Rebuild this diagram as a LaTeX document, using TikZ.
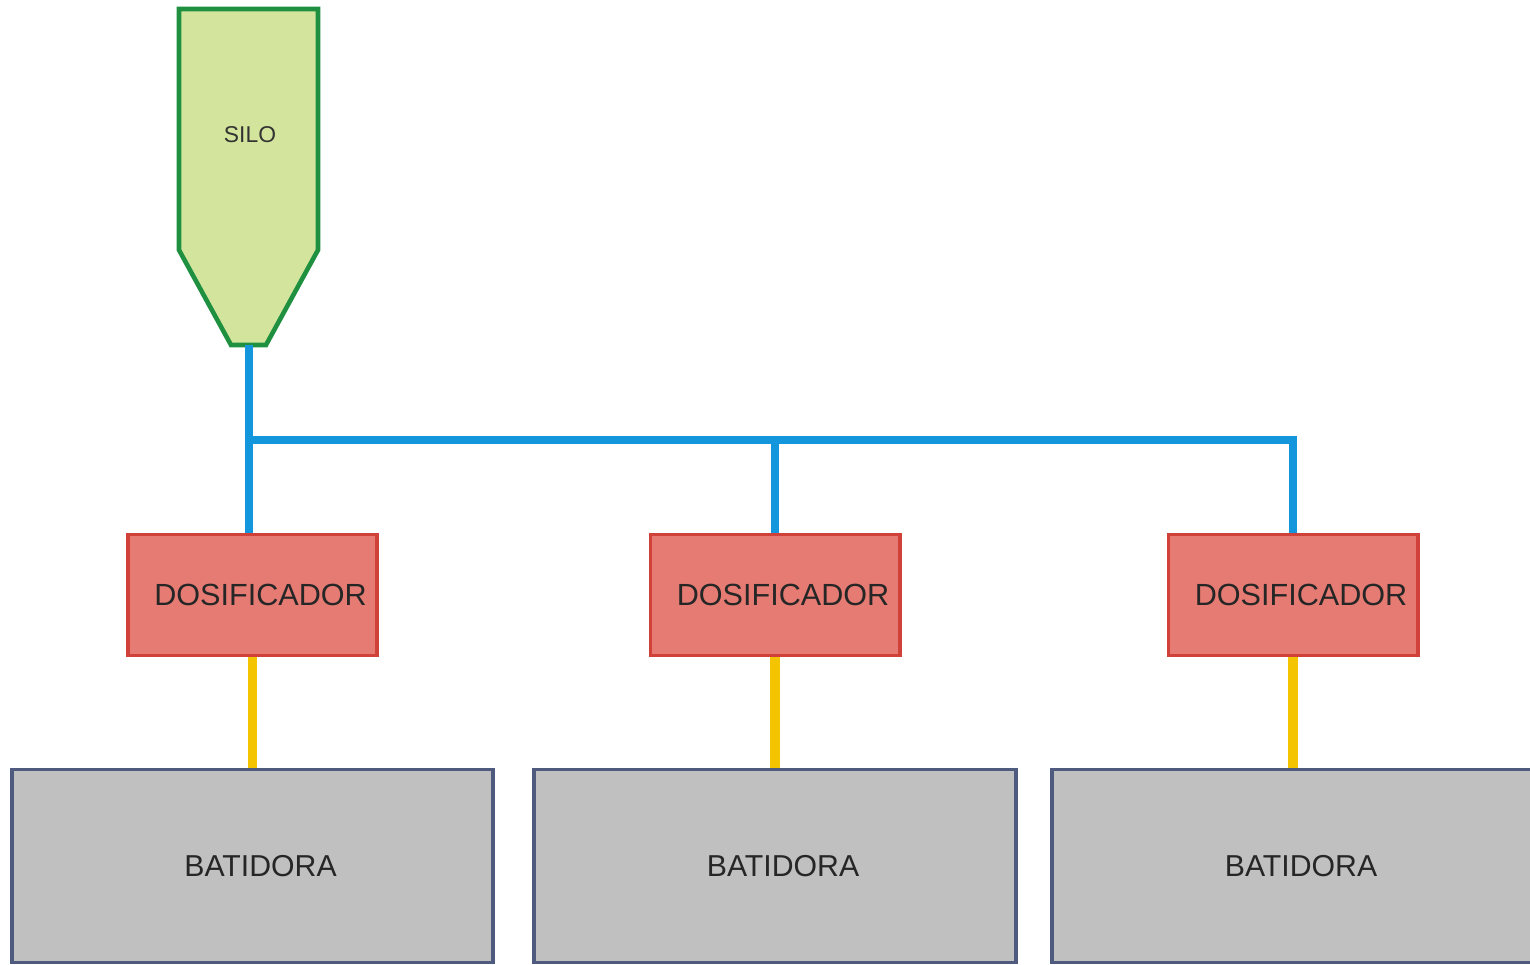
\documentclass[tikz,border=0pt]{standalone}
\usepackage{fontspec}
\setmainfont{Liberation Sans}
\usetikzlibrary{calc}

\definecolor{silofill}{HTML}{D3E59C}
\definecolor{siloline}{HTML}{1E9040}
\definecolor{feedblue}{HTML}{1496DC}
\definecolor{dosfill}{HTML}{E57B73}
\definecolor{dosline}{HTML}{D0413A}
\definecolor{outyellow}{HTML}{F5C400}
\definecolor{batfill}{HTML}{C0C0C0}
\definecolor{batline}{HTML}{4E5A7E}

\tikzset{
  dosif/.style={draw=dosline, fill=dosfill, line width=1.1pt,
    minimum width=2.49cm, minimum height=1.21cm, inner sep=0pt,
    font=\fontsize{8.7}{10}\selectfont, text=black!85},
  batid/.style={draw=batline, fill=batfill, line width=1.1pt,
    minimum width=4.81cm, minimum height=1.93cm, inner sep=0pt,
    font=\fontsize{8.6}{10}\selectfont, text=black!85},
  feed/.style={draw=feedblue, line width=2.3pt},
  outlet/.style={draw=outyellow, line width=2.8pt}
}

\begin{document}
\begin{tikzpicture}[x=0.01cm, y=-0.01cm]
      \useasboundingbox (0,0) rectangle (1530,965);
      %% silo
      \draw [draw=siloline, fill=silofill, line width=1.3pt]
        (179,9) -- (318,9) -- (318,250) -- (266,345) -- (231,345) -- (179,250) -- cycle;
      \node [font=\fontsize{6.5}{8}\selectfont, text=black!80] (silo) at (250,135) {SILO};
      \coordinate (silobot) at (249,345);
      %% dosificadores
      \node [dosif] (d1) at (252.5,595) {\hspace*{0.16cm}DOSIFICADOR};
      \node [dosif] (d2) at (775,595) {\hspace*{0.16cm}DOSIFICADOR};
      \node [dosif] (d3) at (1293,595) {\hspace*{0.16cm}DOSIFICADOR};
      %% batidoras
      \node [batid] (b1) at (252.5,866) {\hspace*{0.16cm}BATIDORA};
      \node [batid] (b2) at (775,866) {\hspace*{0.16cm}BATIDORA};
      \node [batid] (b3) at (1293,866) {\hspace*{0.16cm}BATIDORA};
      %% feed lines
      \coordinate (j1) at (silobot |- 0,440);
      \coordinate (j2) at (d2.north |- j1);
      \draw [feed] (silobot) -- (silobot |- d1.north);
      \draw [feed] (j1) -| (d3.north);
      \draw [feed] (j2) -- (d2.north);
      %% outlets
      \draw [outlet] (d1.south) -- (b1.north);
      \draw [outlet] (d2.south) -- (b2.north);
      \draw [outlet] (d3.south) -- (b3.north);
    \end{tikzpicture}
\end{document}
